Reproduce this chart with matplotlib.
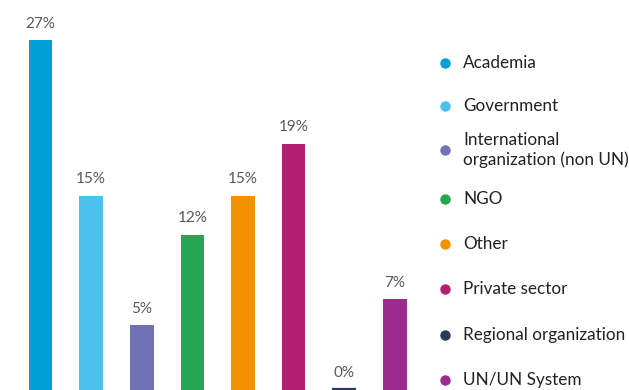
import matplotlib.pyplot as plt
from matplotlib.lines import Line2D

categories = ['Academia', 'Government', 'International\norganization (non UN)', 'NGO',
              'Other', 'Private sector', 'Regional organization', 'UN/UN System']
shares = [27, 15, 5, 12, 15, 19, 0, 7]
colors = ['#009fda', '#4dc1ee', '#7171b5', '#26a553',
          '#f39200', '#b51f73', '#2b3a5a', '#9d2a8e']

W, H = 629, 390
fig = plt.figure(figsize=(W / 100, H / 100), dpi=100)

# bar area on the left, legend drawn by hand on the right
ax = fig.add_axes([15.2 / W, 0, 405 / W, 388.5 / H])
x = range(len(shares))
# zero-valued bars still get a thin stub via their edge
lw = [3 if v == 0 else 0 for v in shares]
bars = ax.bar(x, shares, width=0.465, color=colors, edgecolor=colors,
              linewidth=lw, joinstyle='bevel')
ax.bar_label(bars, labels=[f'{v}%' for v in shares], padding=7,
             fontsize=11, color='#595959', family='Lato')
ax.set_xlim(-0.5, len(shares) - 0.5)
ax.set_ylim(0, 30)
ax.axis('off')

legend_y = [63, 106, 150, 199, 244, 289, 335, 380]
for name, c, yp in zip(categories, colors, legend_y):
    fy = 1 - yp / H
    fig.text(463 / W, fy, name, va='center', ha='left', fontsize=12.3,
             color='#222222', family='Lato', linespacing=1.25)
    fig.add_artist(Line2D([445 / W], [fy], marker='o', markersize=6.5,
                          color=c, transform=fig.transFigure))

fig.savefig('out.png', dpi=100)
